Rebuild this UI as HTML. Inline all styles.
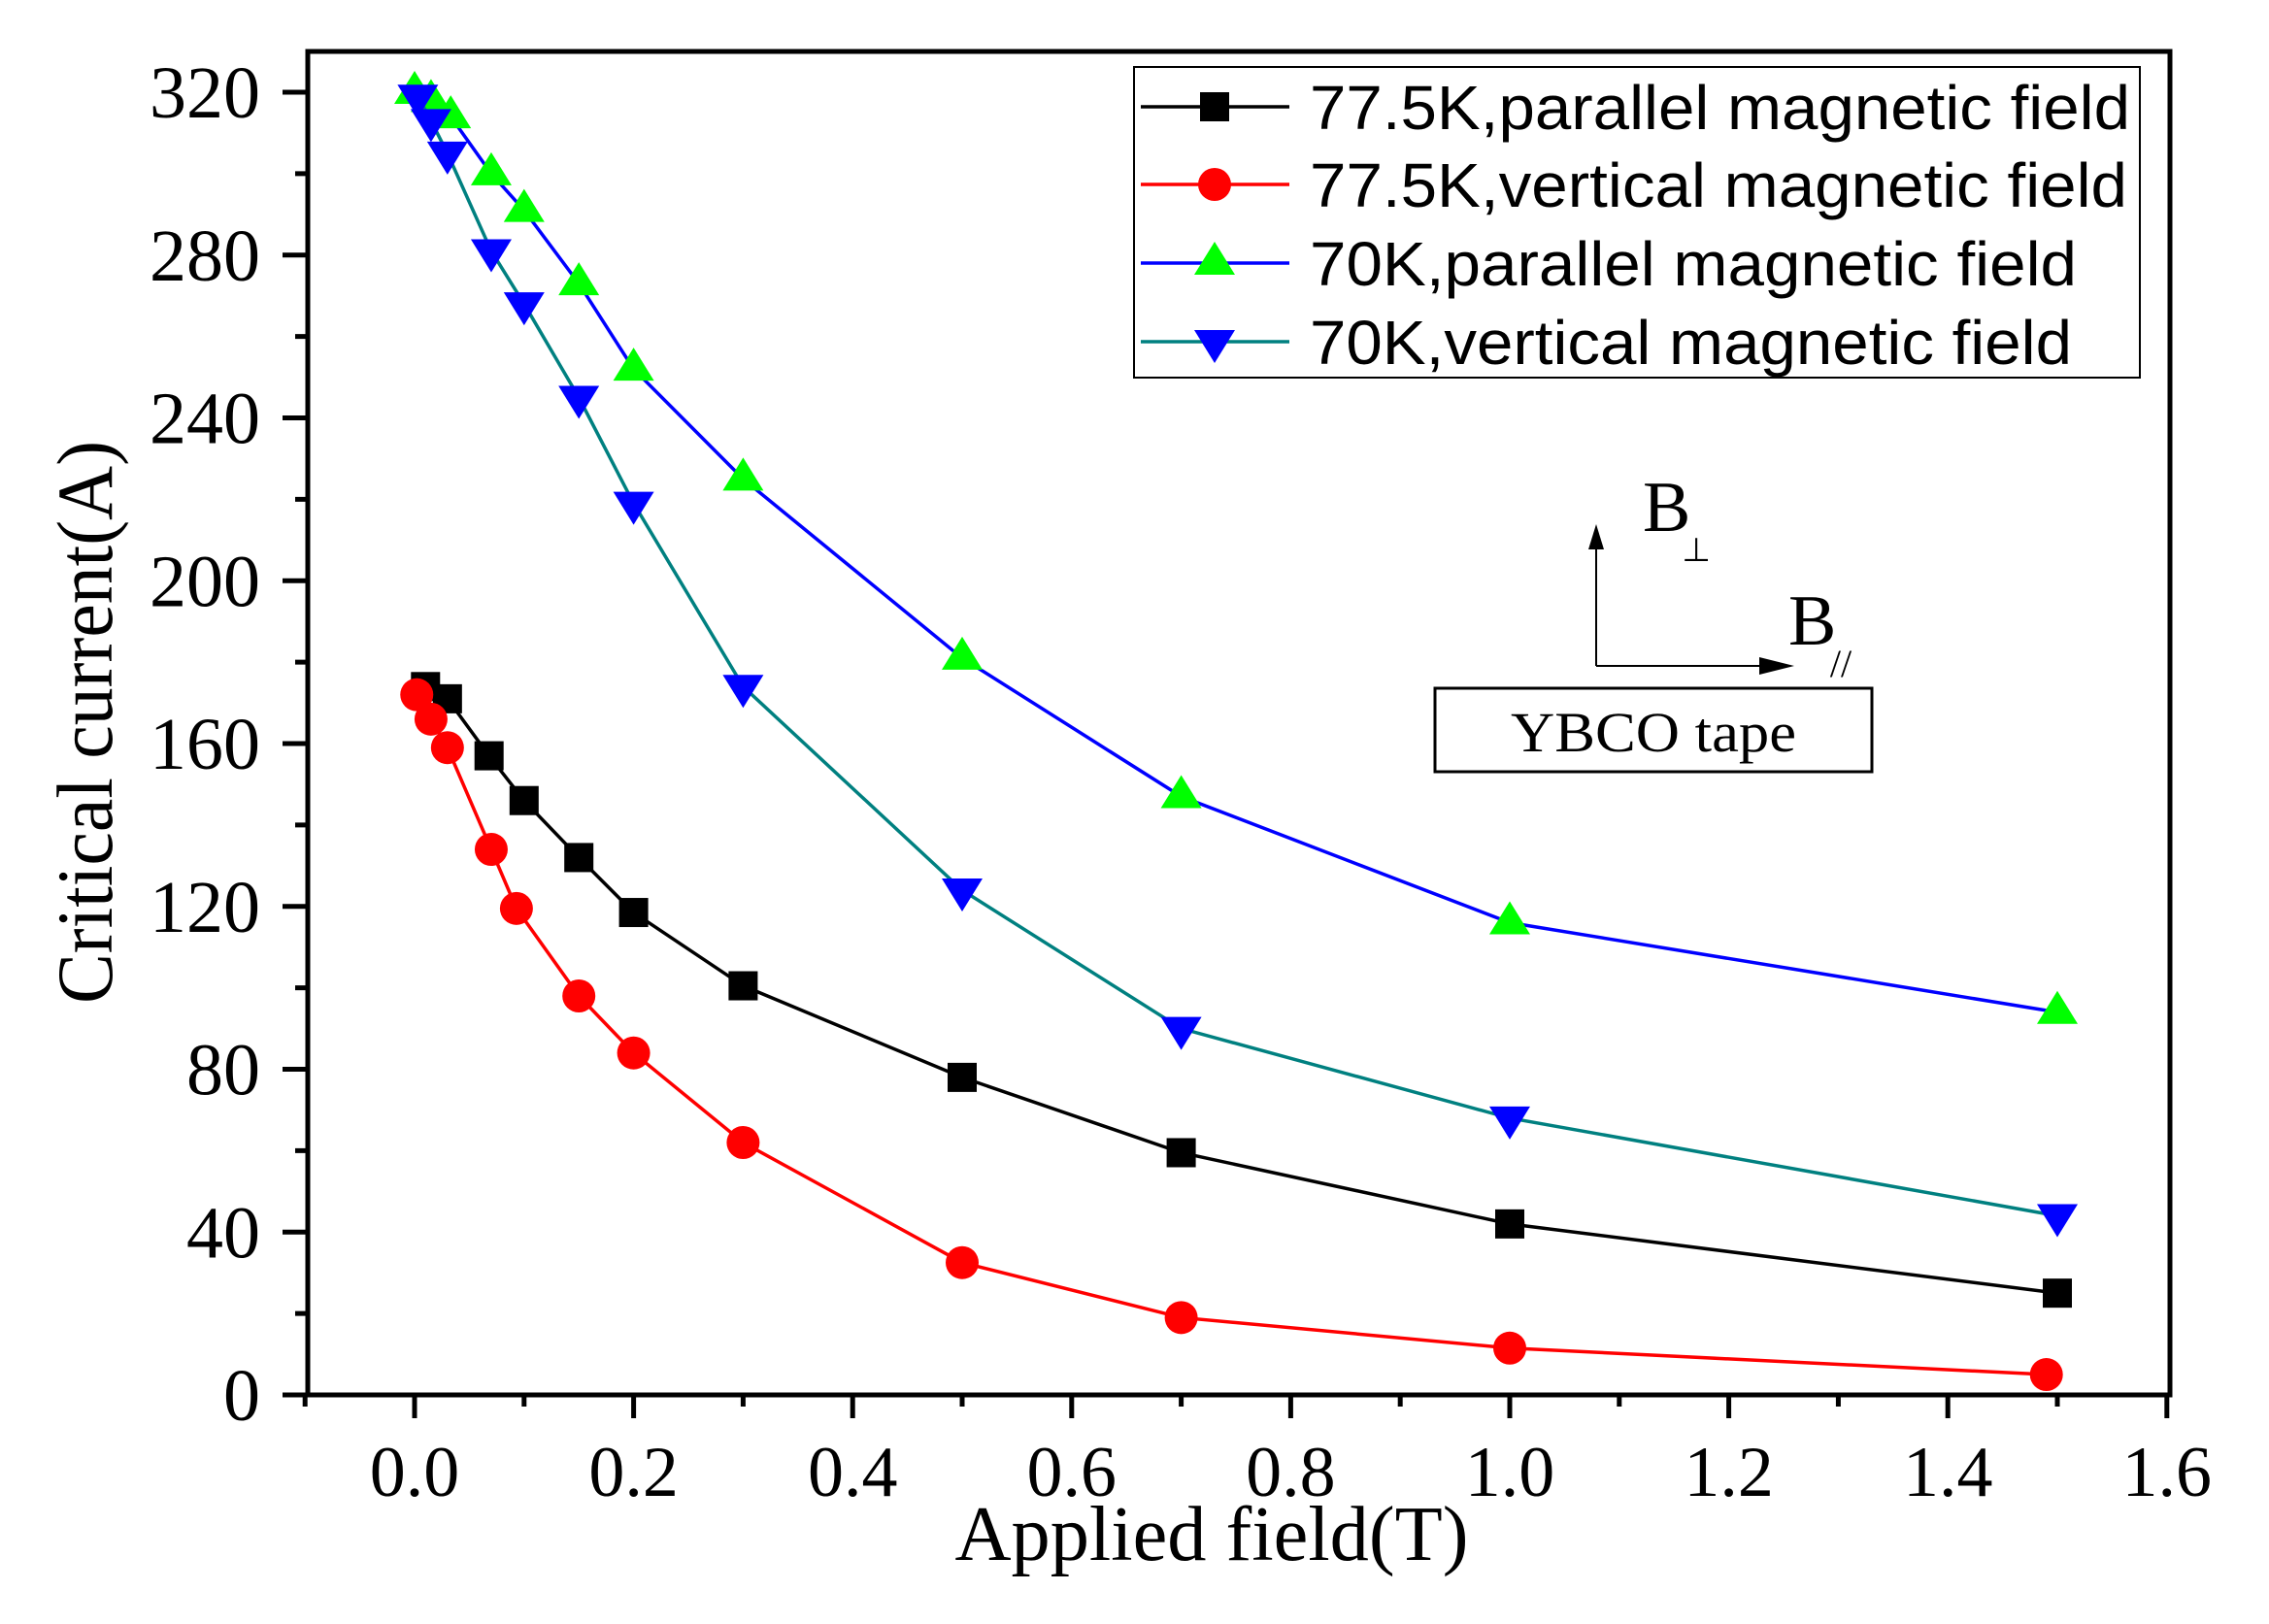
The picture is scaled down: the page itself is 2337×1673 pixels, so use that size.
<!DOCTYPE html>
<html><head><meta charset="utf-8"><style>html,body{margin:0;padding:0;background:#fff}svg{display:block}</style></head>
<body>
<svg id="chart" width="2337" height="1673" viewBox="0 0 2337 1673" xmlns="http://www.w3.org/2000/svg">
<g id="plot"></g>
</svg>
<script>
const xParallel77 = [0.01,0.03,0.068,0.1,0.15,0.2,0.3,0.5,0.7,1.0,1.5];
const yParallel77 = [174,171,157,146,132,118.5,100.5,78,59.5,42,25];
const xVertical77 = [0.002,0.015,0.03,0.07,0.093,0.15,0.2,0.3,0.5,0.7,1.0,1.49];
const yVertical77 = [172,166,159,134,119.5,98,84,62,32.5,19,11.5,5];
const xParallel70 = [0,0.015,0.033,0.07,0.1,0.15,0.2,0.3,0.5,0.7,1.0,1.5];
const yParallel70 = [320,318,314,300,291,273,252,225,181,147,116,94];
const xVertical70 = [0.003,0.015,0.03,0.07,0.1,0.15,0.2,0.3,0.5,0.7,1.0,1.5];
const yVertical70 = [319,313,305,281,268,245,219,174,124,90,68,44];
const xTickLabels = ["0.0","0.2","0.4","0.6","0.8","1.0","1.2","1.4","1.6"];
const yTickLabels = ["0","40","80","120","160","200","240","280","320"];

const NS="http://www.w3.org/2000/svg";
const X0=427, XS=1128, Y0=1437, YS=1342/320;
const L=317, R=2235, T=53, B=1437;
const sx=v=>X0+v*XS, sy=v=>Y0-v*YS;
const g=document.getElementById('plot');
function mk(tag,attrs,parent){const e=document.createElementNS(NS,tag);for(const k in attrs)e.setAttribute(k,attrs[k]);(parent||g).appendChild(e);return e;}

let e=mk('rect',{x:L,y:T,width:R-L,height:B-T,fill:'none',stroke:'#000','stroke-width':5});



for(let v=0;v<=320;v+=20){
  const major=v%40===0;
  e=mk('line',{x1:L-(major?26:13),x2:L,y1:sy(v),y2:sy(v),stroke:'#000','stroke-width':5});
  
  
}
yTickLabels.forEach(s=>{
  e=mk('text',{x:268,y:sy(+s)+26,'text-anchor':'end','font-family':'Liberation Serif, serif','font-size':76});
  e.textContent=s;
  
  
});
for(let i=-1;i<=16;i++){
  const v=i/10, major=i>=0&&i%2===0;
  e=mk('line',{x1:sx(v),x2:sx(v),y1:B,y2:B+(major?24:12),stroke:'#000','stroke-width':5});
  
  
}
xTickLabels.forEach(s=>{
  e=mk('text',{x:sx(+s),y:1541,'text-anchor':'middle','font-family':'Liberation Serif, serif','font-size':74});
  e.textContent=s;
  
  
});
e=mk('text',{x:1248,y:1607,'text-anchor':'middle','font-family':'Liberation Serif, serif','font-size':80,textLength:529,lengthAdjust:'spacingAndGlyphs'});
e.textContent='Applied field(T)';


e=mk('text',{x:0,y:0,'text-anchor':'middle','font-family':'Liberation Serif, serif','font-size':82,textLength:580,lengthAdjust:'spacingAndGlyphs',transform:'translate(115,744) rotate(-90)'});
e.textContent='Critical current(A)';



function marker(type,cx,cy,fill,parent){
  if(type==='sq') return mk('rect',{x:cx-15,y:cy-15,width:30,height:30,fill},parent);
  if(type==='ci') return mk('circle',{cx,cy,r:17,fill},parent);
  if(type==='up') return mk('polygon',{points:`${cx},${cy-22} ${cx-21},${cy+12} ${cx+21},${cy+12}`,fill},parent);
  return mk('polygon',{points:`${cx},${cy+22} ${cx-21},${cy-12} ${cx+21},${cy-12}`,fill},parent);
}
const series=[
 {xs:xParallel77,ys:yParallel77,line:'#000',fill:'#000',m:'sq',name:'parallel-77k'},
 {xs:xVertical77,ys:yVertical77,line:'#ff0000',fill:'#ff0000',m:'ci',name:'vertical-77k'},
 {xs:xParallel70,ys:yParallel70,line:'#0000ff',fill:'#00ff00',m:'up',name:'parallel-70k'},
 {xs:xVertical70,ys:yVertical70,line:'#008080',fill:'#0000ff',m:'dn',name:'vertical-70k'}
];
series.forEach(s=>{
  const sg=mk('g',{});
  
  
  e=mk('polyline',{points:s.xs.map((x,i)=>sx(x)+','+sy(s.ys[i])).join(' '),fill:'none',stroke:s.line,'stroke-width':3.5},sg);
  
  
  s.xs.forEach((x,i)=>{
    e=marker(s.m,sx(x),sy(s.ys[i]),s.fill,sg);
    
    
  });
});

const lg=mk('g',{});


mk('rect',{x:1168,y:69,width:1036,height:320,fill:'#fff',stroke:'#000','stroke-width':2},lg);
const labels=['77.5K,parallel magnetic field','77.5K,vertical magnetic field','70K,parallel magnetic field','70K,vertical magnetic field'];
const lens=[845,842,790,785];
const rows=[110,190,271,352];
series.forEach((s,i)=>{
  const eg=mk('g',{},lg);
  
  
  mk('line',{x1:1175,x2:1328,y1:rows[i],y2:rows[i],stroke:s.line,'stroke-width':3.5},eg);
  marker(s.m,1251,rows[i],s.fill,eg);
  e=mk('text',{x:1349,y:rows[i]+23,'font-family':'Liberation Sans, sans-serif','font-size':64,textLength:lens[i],lengthAdjust:'spacingAndGlyphs'},eg);
  e.textContent=labels[i];
});

const an=mk('g',{transform:'translate(-8,0)'});


mk('line',{x1:1652,y1:686,x2:1652,y2:560,stroke:'#000','stroke-width':2},an);
mk('polygon',{points:'1652,540 1644,566 1660,566',fill:'#000'},an);
mk('line',{x1:1652,y1:686,x2:1830,y2:686,stroke:'#000','stroke-width':2},an);
mk('polygon',{points:'1856,686 1820,677 1820,695',fill:'#000'},an);
e=mk('text',{x:1700,y:547,'font-family':'Liberation Serif, serif','font-size':74},an);e.textContent='B';
e=mk('text',{x:1755,y:578,'text-anchor':'middle','font-family':'DejaVu Sans, sans-serif','font-size':34},an);e.textContent='⊥';
e=mk('text',{x:1850,y:664,'font-family':'Liberation Serif, serif','font-size':74},an);e.textContent='B';
e=mk('text',{x:1904,y:697,'text-anchor':'middle','font-family':'Liberation Serif, serif','font-size':40},an);e.textContent='//';
const box=mk('rect',{x:1486,y:709,width:450,height:86,fill:'none',stroke:'#000','stroke-width':3},an);


e=mk('text',{x:1711,y:774,'text-anchor':'middle','font-family':'Liberation Serif, serif','font-size':58,textLength:294,lengthAdjust:'spacingAndGlyphs'},an);
e.textContent='YBCO tape';


</script>
</body></html>
